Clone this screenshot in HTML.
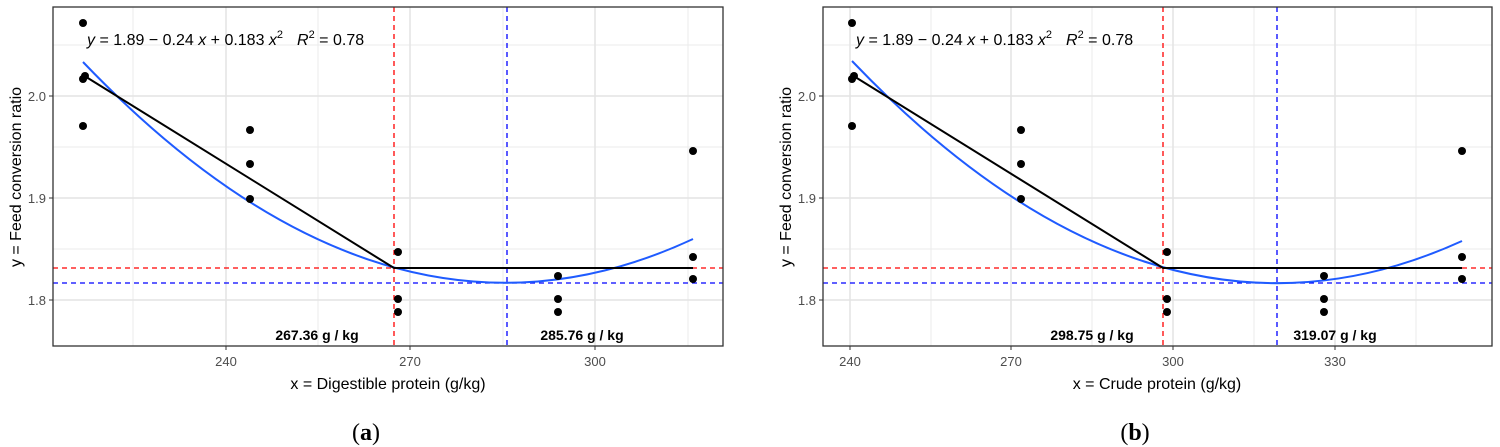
<!DOCTYPE html>
<html><head><meta charset="utf-8"><style>
html,body{margin:0;padding:0;background:#fff;}
svg{display:block;}
</style></head><body>
<svg width="1500" height="447" viewBox="0 0 1500 447" xmlns="http://www.w3.org/2000/svg" font-family="Liberation Sans, Arial, sans-serif">
<!-- Panel A -->
<g>
<rect x="53" y="7" width="670" height="339" fill="#fff"/>
<g stroke="#ebebeb" stroke-width="1">
<line x1="133" y1="7" x2="133" y2="346"/><line x1="318" y1="7" x2="318" y2="346"/><line x1="503" y1="7" x2="503" y2="346"/><line x1="688" y1="7" x2="688" y2="346"/>
<line x1="53" y1="45" x2="723" y2="45"/><line x1="53" y1="147" x2="723" y2="147"/><line x1="53" y1="249" x2="723" y2="249"/>
</g>
<g stroke="#e3e3e3" stroke-width="1.5">
<line x1="226" y1="7" x2="226" y2="346"/><line x1="410" y1="7" x2="410" y2="346"/><line x1="595" y1="7" x2="595" y2="346"/>
<line x1="53" y1="96" x2="723" y2="96"/><line x1="53" y1="198" x2="723" y2="198"/><line x1="53" y1="300" x2="723" y2="300"/>
</g>
<line x1="394" y1="7" x2="394" y2="346" stroke="#f00" stroke-width="1.3" stroke-dasharray="5,4"/>
<line x1="507" y1="7" x2="507" y2="346" stroke="#00f" stroke-width="1.3" stroke-dasharray="5,4"/>
<line x1="53" y1="268" x2="723" y2="268" stroke="#f00" stroke-width="1.3" stroke-dasharray="5,4"/>
<line x1="53" y1="283" x2="723" y2="283" stroke="#00f" stroke-width="1.3" stroke-dasharray="5,4"/>
<path d="M83 62 Q388 381 693 239" fill="none" stroke="#1f5bff" stroke-width="2"/>
<polyline points="83,75 394,268 693,268" fill="none" stroke="#000" stroke-width="2"/>
<g fill="#000">
<circle cx="83" cy="23" r="4"/><circle cx="83" cy="79" r="4"/><circle cx="85" cy="76" r="4"/><circle cx="83" cy="126" r="4"/>
<circle cx="250" cy="130" r="4"/><circle cx="250" cy="164" r="4"/><circle cx="250" cy="199" r="4"/>
<circle cx="398" cy="252" r="4"/><circle cx="398" cy="299" r="4"/><circle cx="398" cy="312" r="4"/>
<circle cx="558" cy="276" r="4"/><circle cx="558" cy="299" r="4"/><circle cx="558" cy="312" r="4"/>
<circle cx="693" cy="151" r="4"/><circle cx="693" cy="257" r="4"/><circle cx="693" cy="279" r="4"/>
</g>
<text x="87" y="45" font-size="16"><tspan font-style="italic">y</tspan> = 1.89 − 0.24 <tspan font-style="italic">x</tspan> + 0.183 <tspan font-style="italic">x</tspan><tspan dy="-7" font-size="11">2</tspan><tspan dy="7" dx="14" font-style="italic">R</tspan><tspan dy="-7" font-size="11">2</tspan><tspan dy="7"> = 0.78</tspan></text>
<text x="317" y="340" font-size="14" font-weight="bold" text-anchor="middle">267.36 g / kg</text>
<text x="582" y="340" font-size="14" font-weight="bold" text-anchor="middle">285.76 g / kg</text>
<rect x="53" y="7" width="670" height="339" fill="none" stroke="#333" stroke-width="1.3"/>
<g stroke="#333"><line x1="226" y1="346" x2="226" y2="350"/><line x1="410" y1="346" x2="410" y2="350"/><line x1="595" y1="346" x2="595" y2="350"/>
<line x1="49" y1="96" x2="53" y2="96"/><line x1="49" y1="198" x2="53" y2="198"/><line x1="49" y1="300" x2="53" y2="300"/></g>
<g font-size="13" fill="#4d4d4d"><text x="226" y="366" text-anchor="middle">240</text><text x="410" y="366" text-anchor="middle">270</text><text x="595" y="366" text-anchor="middle">300</text>
<text x="46" y="101" text-anchor="end">2.0</text><text x="46" y="203" text-anchor="end">1.9</text><text x="46" y="305" text-anchor="end">1.8</text></g>
<text x="388" y="389" font-size="16" text-anchor="middle">x = Digestible protein (g/kg)</text>
<text transform="translate(21,177) rotate(-90)" font-size="16" text-anchor="middle">y = Feed conversion ratio</text>
<text x="366" y="440" font-size="24" font-family="Liberation Serif, serif" text-anchor="middle">(<tspan font-weight="bold">a</tspan>)</text>
</g>
<!-- Panel B -->
<g>
<g stroke="#ebebeb" stroke-width="1">
<line x1="931" y1="7" x2="931" y2="346"/><line x1="1092" y1="7" x2="1092" y2="346"/><line x1="1254" y1="7" x2="1254" y2="346"/><line x1="1416" y1="7" x2="1416" y2="346"/>
<line x1="823" y1="45" x2="1492" y2="45"/><line x1="823" y1="147" x2="1492" y2="147"/><line x1="823" y1="249" x2="1492" y2="249"/>
</g>
<g stroke="#e3e3e3" stroke-width="1.5">
<line x1="850" y1="7" x2="850" y2="346"/><line x1="1011" y1="7" x2="1011" y2="346"/><line x1="1173" y1="7" x2="1173" y2="346"/><line x1="1335" y1="7" x2="1335" y2="346"/>
<line x1="823" y1="96" x2="1492" y2="96"/><line x1="823" y1="198" x2="1492" y2="198"/><line x1="823" y1="300" x2="1492" y2="300"/>
</g>
<line x1="1163" y1="7" x2="1163" y2="346" stroke="#f00" stroke-width="1.3" stroke-dasharray="5,4"/>
<line x1="1277" y1="7" x2="1277" y2="346" stroke="#00f" stroke-width="1.3" stroke-dasharray="5,4"/>
<line x1="823" y1="268" x2="1492" y2="268" stroke="#f00" stroke-width="1.3" stroke-dasharray="5,4"/>
<line x1="823" y1="283" x2="1492" y2="283" stroke="#00f" stroke-width="1.3" stroke-dasharray="5,4"/>
<path d="M852 61 Q1157 380 1462 241" fill="none" stroke="#1f5bff" stroke-width="2"/>
<polyline points="852,75 1163,268 1462,268" fill="none" stroke="#000" stroke-width="2"/>
<g fill="#000">
<circle cx="852" cy="23" r="4"/><circle cx="852" cy="79" r="4"/><circle cx="854" cy="76" r="4"/><circle cx="852" cy="126" r="4"/>
<circle cx="1021" cy="130" r="4"/><circle cx="1021" cy="164" r="4"/><circle cx="1021" cy="199" r="4"/>
<circle cx="1167" cy="252" r="4"/><circle cx="1167" cy="299" r="4"/><circle cx="1167" cy="312" r="4"/>
<circle cx="1324" cy="276" r="4"/><circle cx="1324" cy="299" r="4"/><circle cx="1324" cy="312" r="4"/>
<circle cx="1462" cy="151" r="4"/><circle cx="1462" cy="257" r="4"/><circle cx="1462" cy="279" r="4"/>
</g>
<text x="856" y="45" font-size="16"><tspan font-style="italic">y</tspan> = 1.89 − 0.24 <tspan font-style="italic">x</tspan> + 0.183 <tspan font-style="italic">x</tspan><tspan dy="-7" font-size="11">2</tspan><tspan dy="7" dx="14" font-style="italic">R</tspan><tspan dy="-7" font-size="11">2</tspan><tspan dy="7"> = 0.78</tspan></text>
<text x="1092" y="340" font-size="14" font-weight="bold" text-anchor="middle">298.75 g / kg</text>
<text x="1335" y="340" font-size="14" font-weight="bold" text-anchor="middle">319.07 g / kg</text>
<rect x="823" y="7" width="669" height="339" fill="none" stroke="#333" stroke-width="1.3"/>
<g stroke="#333"><line x1="850" y1="346" x2="850" y2="350"/><line x1="1011" y1="346" x2="1011" y2="350"/><line x1="1173" y1="346" x2="1173" y2="350"/><line x1="1335" y1="346" x2="1335" y2="350"/>
<line x1="819" y1="96" x2="823" y2="96"/><line x1="819" y1="198" x2="823" y2="198"/><line x1="819" y1="300" x2="823" y2="300"/></g>
<g font-size="13" fill="#4d4d4d"><text x="850" y="366" text-anchor="middle">240</text><text x="1011" y="366" text-anchor="middle">270</text><text x="1173" y="366" text-anchor="middle">300</text><text x="1335" y="366" text-anchor="middle">330</text>
<text x="816" y="101" text-anchor="end">2.0</text><text x="816" y="203" text-anchor="end">1.9</text><text x="816" y="305" text-anchor="end">1.8</text></g>
<text x="1157" y="389" font-size="16" text-anchor="middle">x = Crude protein (g/kg)</text>
<text transform="translate(791,177) rotate(-90)" font-size="16" text-anchor="middle">y = Feed conversion ratio</text>
<text x="1135" y="440" font-size="24" font-family="Liberation Serif, serif" text-anchor="middle">(<tspan font-weight="bold">b</tspan>)</text>
</g>
</svg>
</body></html>
